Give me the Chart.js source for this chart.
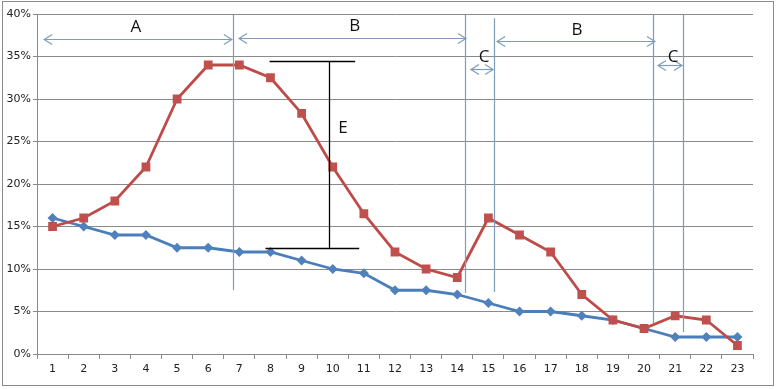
<!DOCTYPE html>
<html>
<head>
<meta charset="utf-8">
<script src="https://cdn.jsdelivr.net/npm/chart.js@4/dist/chart.umd.min.js"></script>
<style>
  html, body { margin: 0; padding: 0; background: #fff; }
  #wrap { width: 777px; height: 389px; position: relative; }
</style>
</head>
<body>
<div id="wrap"><canvas id="chart" width="777" height="389"></canvas></div>
<script>
// --- data ---
const categories = ['1','2','3','4','5','6','7','8','9','10','11','12','13','14','15','16','17','18','19','20','21','22','23'];
const redSeries = [15, 16, 18, 22, 30, 34, 34, 32.5, 28.3, 22, 16.5, 12, 10, 9, 16, 14, 12, 7, 4, 3, 4.5, 4, 1];
const blueSeries = [16, 15, 14, 14, 12.5, 12.5, 12, 12, 11, 10, 9.5, 7.5, 7.5, 7, 6, 5, 5, 4.5, 4, 3, 2, 2, 2];
const yTicks = [0, 5, 10, 15, 20, 25, 30, 35, 40];

// annotations in category units (1 = first category) and percent
const dividers = [[6.80, 39.9, 7.5], [14.25, 39.9, 7.2], [15.18, 39.5, 7.3], [20.29, 39.9, 3.6], [21.25, 39.9, 2.6]];
const spans = [[0.73, 6.76, 37.1], [6.99, 14.28, 37.2], [14.44, 15.15, 33.5], [15.28, 20.35, 36.8], [20.45, 21.22, 34.0]];
const spanLabels = [['A', 3.68, 38.5], ['B', 10.71, 38.6], ['C', 14.86, 34.9], ['B', 17.85, 38.1], ['C', 20.93, 34.9]];
const eBar = { x: 9.88, top: 34.5, bottom: 12.5, topFrom: 7.97, topTo: 10.72, botFrom: 7.84, botTo: 10.85, label: 'E', lx: 10.33, ly: 26.6 };

const annColor = '#7f9db9';

//--- helpers ---//
function px(scale, cat) {
    return scale.getPixelForValue(cat - 1);
}
function line(ctx, x1, y1, x2, y2) {
    ctx.beginPath();
    ctx.moveTo(x1, y1);
    ctx.lineTo(x2, y2);
    ctx.stroke();
}
function arrowHead(ctx, x, y, dir) {
    ctx.beginPath();
    ctx.moveTo(x - dir * 8, y - 5);
    ctx.lineTo(x, y);
    ctx.lineTo(x - dir * 8, y + 5);
    ctx.stroke();
}

const annotations = {
    id: 'annotations',
    afterDatasetsDraw(chart) {
        const ctx = chart.ctx;
        const xs = chart.scales.x;
        const ys = chart.scales.y;
        ctx.save();
        ctx.strokeStyle = annColor;
        ctx.lineWidth = 1.2;
        dividers.forEach(d => {
            const x = Math.round(px(xs, d[0])) + 0.5;
            line(ctx, x, ys.getPixelForValue(d[1]), x, ys.getPixelForValue(d[2]));
        });
        spans.forEach(s => {
            const x1 = px(xs, s[0]), x2 = px(xs, s[1]);
            const y = Math.round(ys.getPixelForValue(s[2])) + 0.5;
            line(ctx, x1, y, x2, y);
            arrowHead(ctx, x1, y, -1);
            arrowHead(ctx, x2, y, 1);
        });
        ctx.fillStyle = '#111';
        ctx.font = '17px "Open Sans", sans-serif';
        ctx.textAlign = 'center';
        ctx.textBaseline = 'middle';
        spanLabels.forEach(l => {
            ctx.fillText(l[0], px(xs, l[1]), ys.getPixelForValue(l[2]));
        });
        // E bracket
        ctx.strokeStyle = '#000';
        ctx.lineWidth = 1.3;
        const ex = Math.round(px(xs, eBar.x)) + 0.5;
        const yt = Math.round(ys.getPixelForValue(eBar.top)) + 0.5;
        const yb = Math.round(ys.getPixelForValue(eBar.bottom)) + 0.5;
        line(ctx, ex, yt, ex, yb);
        line(ctx, px(xs, eBar.topFrom), yt, px(xs, eBar.topTo), yt);
        line(ctx, px(xs, eBar.botFrom), yb, px(xs, eBar.botTo), yb);
        ctx.fillText(eBar.label, px(xs, eBar.lx), ys.getPixelForValue(eBar.ly));
        // outer frame
        ctx.strokeStyle = '#8a8a8a';
        ctx.lineWidth = 1;
        ctx.strokeRect(2.5, 1.5, 771, 384);
        ctx.restore();
    }
};

new Chart(document.getElementById('chart'), {
    type: 'line',
    data: {
        labels: categories,
        datasets: [{
            label: 'red',
            data: redSeries,
            borderColor: '#be4b48',
            backgroundColor: '#c0504d',
            borderWidth: 2.8,
            pointStyle: 'rect',
            pointRadius: 6.2,
            pointBorderWidth: 0,
            tension: 0
        }, {
            label: 'blue',
            data: blueSeries,
            borderColor: '#4a7ebb',
            backgroundColor: '#4f81bd',
            borderWidth: 2.8,
            pointStyle: 'rectRot',
            pointRadius: 5,
            pointBorderWidth: 0,
            tension: 0
        }]
    },
    options: {
        responsive: false,
        animation: false,
        events: [],
        layout: { padding: { left: 0, top: 14, right: 24, bottom: 0 } },
        plugins: { legend: { display: false }, tooltip: { enabled: false } },
        scales: {
            x: {
                offset: true,
                grid: { offset: true, drawOnChartArea: false, drawTicks: true, tickLength: 5, color: '#8a8a8a' },
                border: { color: '#8a8a8a' },
                ticks: { color: '#222', font: { family: '"DejaVu Sans", sans-serif', size: 11 }, padding: 4, maxRotation: 0, autoSkip: false },
                afterFit(scale) { scale.height = 35; }
            },
            y: {
                min: 0,
                max: 40,
                afterBuildTicks(scale) { scale.ticks = yTicks.map(v => ({ value: v })); },
                grid: { color: '#8a8a8a', tickLength: 4 },
                border: { color: '#8a8a8a' },
                ticks: { color: '#222', font: { family: '"DejaVu Sans", sans-serif', size: 11 }, padding: 2, callback: v => v + '%' },
                afterFit(scale) { scale.width = 37; }
            }
        }
    },
    plugins: [annotations]
});
</script>
</body>
</html>
